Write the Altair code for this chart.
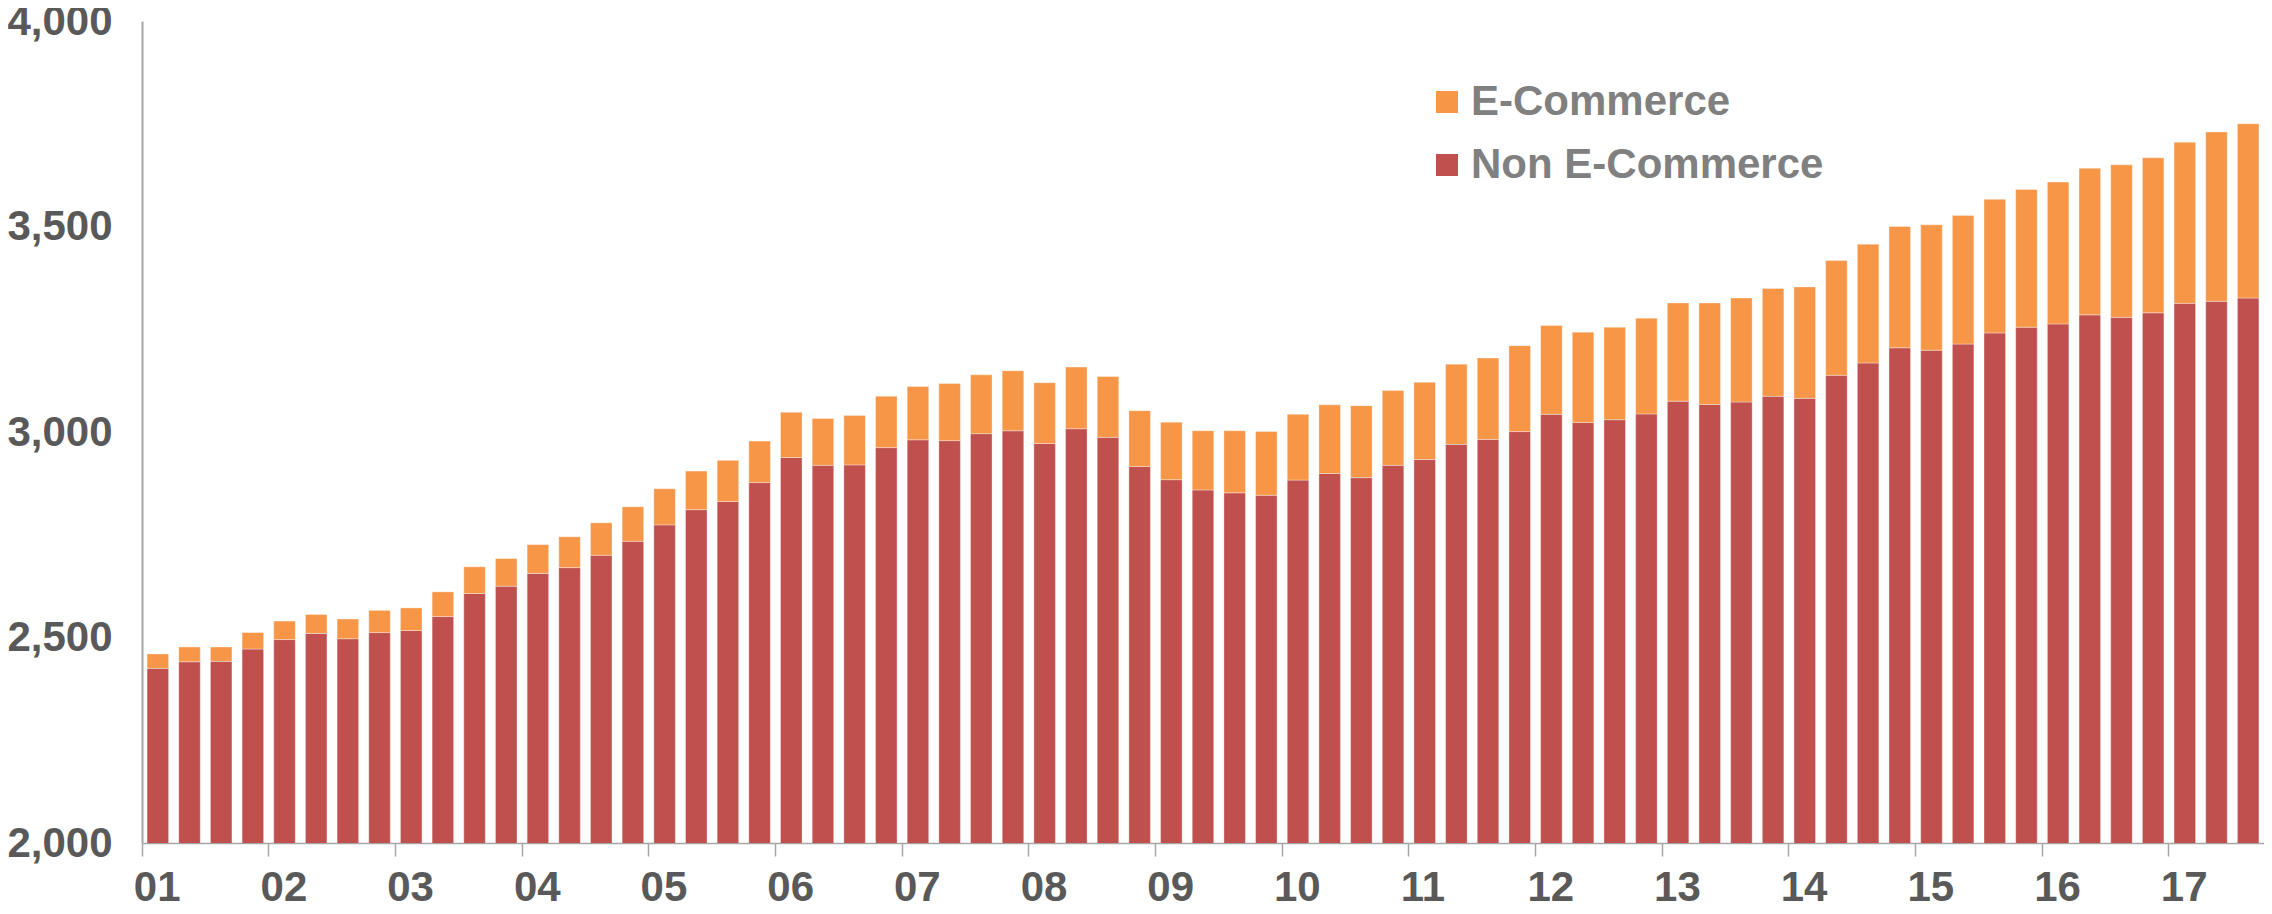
import altair as alt
import pandas as pd

# Categories: quarters 2001Q1 .. 2017Q3
years = ["2001", "2002", "2003", "2004", "2005", "2006", "2007", "2008", "2009",
         "2010", "2011", "2012", "2013", "2014", "2015", "2016", "2017"]
quarters = ["Q1", "Q2", "Q3", "Q4"]
periods = [y + q for y in years for q in quarters][:67]
year_starts = [y + "Q1" for y in years]

series_names = ["E-Commerce", "Non E-Commerce"]

non_ecommerce = [
    2425, 2441, 2442, 2472,
    2495, 2510, 2497, 2512,
    2517, 2551, 2607, 2625,
    2656, 2670, 2700, 2734,
    2774, 2811, 2831, 2877,
    2938, 2919, 2920, 2962,
    2981, 2979, 2996, 3003,
    2972, 3008, 2987, 2916,
    2884, 2859, 2852, 2846,
    2883, 2899, 2889, 2919,
    2933, 2970, 2982, 3001,
    3043, 3023, 3030, 3044,
    3075, 3067, 3073, 3087,
    3082, 3138, 3168, 3205,
    3199, 3214, 3241, 3255,
    3263, 3285, 3279, 3290,
    3313, 3318, 3326,
]

ecommerce = [
    35, 36, 35, 40,
    45, 46, 48, 54,
    55, 60, 65, 67,
    70, 75, 79, 84,
    88, 94, 100, 101,
    110, 114, 120, 125,
    130, 139, 143, 146,
    148, 150, 148, 136,
    140, 144, 151, 155,
    160, 167, 175, 182,
    188, 195, 198, 209,
    216, 220, 225, 233,
    239, 247, 253, 262,
    271, 279, 289, 295,
    305, 313, 325, 335,
    345, 357, 371, 377,
    392, 412, 424,
]

rows = []
for p, n, e in zip(periods, non_ecommerce, ecommerce):
    rows.append({"period": p, "series": "Non E-Commerce", "value": n, "ord": 0})
    rows.append({"period": p, "series": "E-Commerce", "value": e, "ord": 1})
df = pd.DataFrame(rows)

FONT = "Liberation Sans"

chart = (
    alt.Chart(df)
    .mark_bar(clip=True, width=alt.RelativeBandSize(0.68),
              stroke="white", strokeOpacity=0.35, strokeWidth=1)
    .encode(
        x=alt.X(
            "period:N",
            sort=periods,
            scale=alt.Scale(paddingInner=0, paddingOuter=0),
            axis=alt.Axis(
                values=year_starts,
                bandPosition=0,
                labelExpr="substring(datum.value, 2, 4)",
                title=None,
                grid=True,
                gridColor="white",
                gridWidth=1.2,
                ticks=True,
                tickSize=13,
                tickColor="#A6A6A6",
                tickWidth=1.5,
                domainColor="#A6A6A6",
                domainWidth=1.5,
                labelFont=FONT,
                labelFontSize=42,
                labelFontWeight="bold",
                labelColor="#595959",
                labelAlign="left",
                labelOffset=-24,
                labelBaseline="top",
                labelPadding=11,
                labelAngle=0,
                labelOverlap=False,
                labelFlush=False,
                labelBound=False,
            ),
        ),
        y=alt.Y(
            "value:Q",
            stack="zero",
            scale=alt.Scale(domain=[2000, 4000], zero=False, nice=False),
            axis=alt.Axis(
                values=[2000, 2500, 3000, 3500, 4000],
                format=",d",
                title=None,
                ticks=False,
                grid=True,
                gridColor="white",
                gridWidth=2.5,
                domainColor="#A6A6A6",
                domainWidth=2,
                labelFont=FONT,
                labelFontSize=42,
                labelFontWeight="bold",
                labelColor="#595959",
                labelPadding=30,
                labelOverlap=False,
                labelFlush=False,
                labelBound=False,
            ),
        ),
        color=alt.Color(
            "series:N",
            scale=alt.Scale(domain=series_names, range=["#F79646", "#C0504D"]),
            legend=alt.Legend(
                orient="none",
                legendX=1284,
                legendY=60,
                title=None,
                symbolType="square",
                symbolSize=484,
                symbolStrokeWidth=0,
                labelFont=FONT,
                labelFontSize=42,
                labelFontWeight="bold",
                labelColor="#808080",
                labelOffset=3,
                labelLimit=800,
                rowPadding=21,
                padding=0,
            ),
        ),
        order=alt.Order("ord:Q"),
    )
    .properties(
        width=2122,
        height=822,
        autosize=alt.AutoSizeParams(type="none"),
        padding={"left": 134, "top": 13, "right": 0, "bottom": 63},
    )
    .configure_view(fill="#F2F2F2", stroke=None)
    .configure(background="white")
)

chart.save("out.html", embed_options={"renderer": "svg", "actions": False})
